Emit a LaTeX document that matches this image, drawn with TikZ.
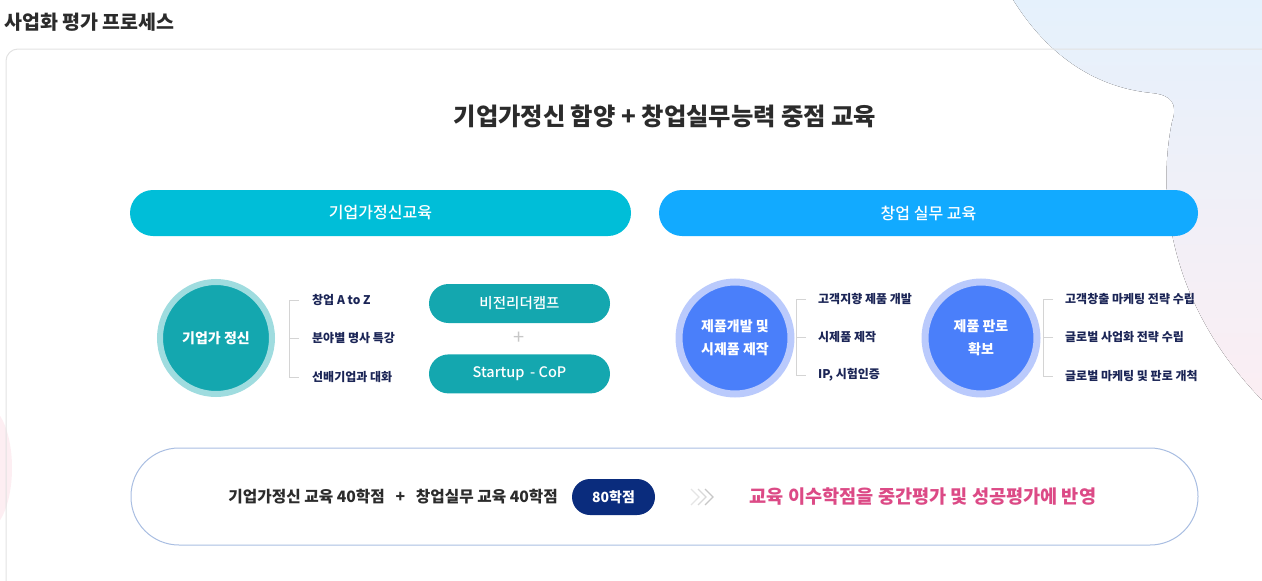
\documentclass[tikz,border=0pt]{standalone}
\usepackage{fontspec}
\setmainfont{Noto Sans CJK KR}
\newfontfamily\mediumfont{Noto Sans CJK KR Medium}
\usetikzlibrary{positioning,shapes.misc}

\definecolor{cardline}{HTML}{E2E2E2}
\definecolor{blobtop}{HTML}{E5F1FC}
\definecolor{blobbot}{HTML}{FBEEF3}
\definecolor{blobpink}{HTML}{FDEEF2}
\definecolor{teelbar}{HTML}{00BED8}
\definecolor{skybar}{HTML}{12AAFF}
\definecolor{teelin}{HTML}{14A7AF}
\definecolor{teelring}{HTML}{9FDCDF}
\definecolor{bluein}{HTML}{4A7FFA}
\definecolor{bluering}{HTML}{BACAFC}
\definecolor{itemnavy}{HTML}{1B2556}
\definecolor{pillnavy}{HTML}{0A2C7D}
\definecolor{reflpink}{HTML}{DC4A86}
\definecolor{boxline}{HTML}{A9BEE2}
\definecolor{darktext}{HTML}{2B2B2B}

\begin{document}
\begin{tikzpicture}[
        x=1pt, y=-1pt,
        every node/.style={align=center, inner sep=0pt},
        card/.style={draw=cardline, line width=1pt, rounded corners=12pt},
        bar/.style={rectangle, rounded corners=23pt, minimum height=46pt, text=white, font=\mediumfont\fontsize{16}{19}\selectfont},
        core/.style={circle, minimum size=112pt, text=white, font=\bfseries\fontsize{14}{23}\selectfont},
        item/.style={anchor=west, text=itemnavy, font=\bfseries\fontsize{12}{14}\selectfont},
        pill/.style={rectangle, rounded corners=19.5pt, fill=teelin, minimum width=181pt, minimum height=39pt, text=white, font=\mediumfont\fontsize{14.5}{17}\selectfont},
        bracket/.style={draw=black!17, line width=1pt}
    ]
    \clip (0,0) rectangle (1262,581);
    \useasboundingbox (0,0) rectangle (1262,581);
    % Background blobs
    \fill[top color=blobtop, bottom color=blobbot] (1012,-2) .. controls (1050,60) and (1100,88) .. (1152,93)
        .. controls (1172,95) and (1178,104) .. (1172,122) .. controls (1158,190) and (1165,300) .. (1262,400) -- (1262,-2) -- cycle;
    \fill[blobpink] (-14,468) ellipse (26 and 62);
    % Card
    \draw[card] (6,49) rectangle (1290,620);
    \node[anchor=west, text=darktext, font=\bfseries\fontsize{19.5}{22}\selectfont] (title) at (4,22) {사업화 평가 프로세스};
    \node[text=darktext, font=\bfseries\fontsize{24.3}{28}\selectfont] (head) at (665,116) {기업가정신 함양 + 창업실무능력 중점 교육};
    % Bars
    \node[bar, fill=teelbar, minimum width=501pt] (barL) at (380.5,213) {기업가정신교육};
    \node[bar, fill=skybar, minimum width=539pt] (barR) at (928.5,213) {창업 실무 교육};
    % Left group
    \node[core, fill=teelin, draw=teelring, line width=6pt] (spirit) at (216,338) {기업가 정신};
    \node[item] (a1) at (312,300) {창업 A to Z};
    \node[item] (a2) at (312,338) {분야별 명사 특강};
    \node[item] (a3) at (312,377) {선배기업과 대화};
    \draw[bracket] ([xshift=-13pt]a1.west) -- ++(-10,0) |- ([xshift=-13pt]a3.west);
    \draw[bracket] ([xshift=-13pt]a2.west) -- ++(-10,0);
    \node[pill] (camp) at (519.5,303.5) {비전리더캠프};
    \node[pill, below=31pt of camp] (cop) {Startup\, - CoP};
    \node[text=black!22, font=\fontsize{20}{20}\selectfont] (plus) at (519.5,338) {+};
    % Middle group
    \node[core, fill=bluein, draw=bluering, line width=7pt] (proto) at (735,338) {제품개발 및\\시제품 제작};
    \node[item] (b1) at (818,299) {고객지향 제품 개발};
    \node[item] (b2) at (818,337) {시제품 제작};
    \node[item] (b3) at (818,375) {IP, 시험인증};
    \draw[bracket] ([xshift=-12pt]b1.west) -- ++(-10,0) |- ([xshift=-12pt]b3.west);
    \draw[bracket] ([xshift=-12pt]b2.west) -- ++(-10,0);
    % Right group
    \node[core, fill=bluein, draw=bluering, line width=7pt] (market) at (981,338) {제품 판로\\확보};
    \node[item] (c1) at (1065,299) {고객창출 마케팅 전략 수립};
    \node[item] (c2) at (1065,337) {글로벌 사업화 전략 수립};
    \node[item] (c3) at (1065,376) {글로벌 마케팅 및 판로 개척};
    \draw[bracket] ([xshift=-12pt]c1.west) -- ++(-10,0) |- ([xshift=-12pt]c3.west);
    \draw[bracket] ([xshift=-12pt]c2.west) -- ++(-10,0);
    % Credit box
    \node[draw=boxline, line width=1pt, fill=white, rounded corners=48pt, minimum width=1067pt, minimum height=97pt] (credit) at (664.5,496.5) {};
    \node[anchor=east, text=darktext, font=\bfseries\fontsize{15.7}{18}\selectfont] (sum) at (558,497) {기업가정신 교육 40학점\ \ \ +\ \ \ 창업실무 교육 40학점};
    \node[fill=pillnavy, rounded corners=18pt, minimum width=83pt, minimum height=36pt, text=white, font=\bfseries\fontsize{14}{17}\selectfont] (total) at (613.5,497) {80학점};
    \node[text=reflpink, font=\bfseries\fontsize{18.6}{22}\selectfont] (result) at (923,497) {교육 이수학점을 중간평가 및 성공평가에 반영};
    \coordinate (chev) at (691,497);
    \foreach \i/\c in {0/10,7/15,14/22}
        \draw[black!\c, line width=1.2pt] ([xshift=\i pt, yshift=8pt]chev) -- ++(8,8) -- ++(-8,8);
\end{tikzpicture}
\end{document}
